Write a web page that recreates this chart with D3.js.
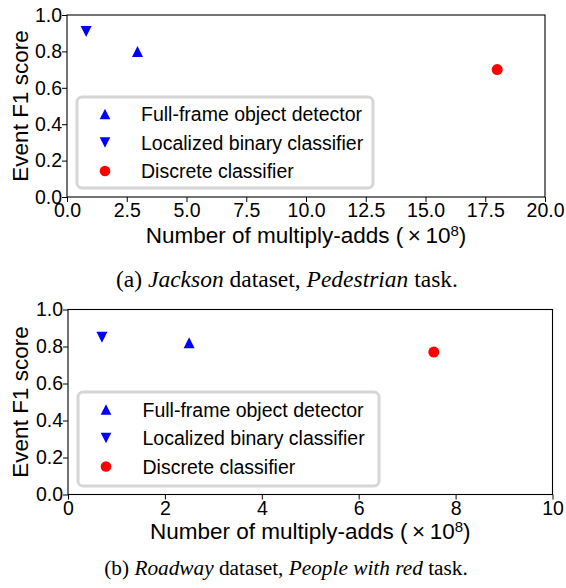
<!DOCTYPE html>
<html>
<head>
<meta charset="utf-8">
<script src="https://cdn.jsdelivr.net/npm/d3@7"></script>
<style>
  html, body { margin: 0; padding: 0; background: #fff; }
  svg { display: block; }
</style>
</head>
<body>
<svg id="chart" width="566" height="588"></svg>
<script>
// ---------------- data ----------------
const seriesNames = ["Full-frame object detector", "Localized binary classifier", "Discrete classifier"];
const seriesShapes = ["up", "down", "circle"];

const jacksonX = [2.95, 0.8, 18.0];
const jacksonY = [0.80, 0.91, 0.70];
const roadwayX = [2.5, 0.7, 7.55];
const roadwayY = [0.82, 0.85, 0.77];

const jacksonXTicks = [0, 2.5, 5, 7.5, 10, 12.5, 15, 17.5, 20];
const roadwayXTicks = [0, 2, 4, 6, 8, 10];
const yTicks = [0, 0.2, 0.4, 0.6, 0.8, 1.0];

const xLabelMain = "Number of multiply-adds (\u2009\u00D7\u200910";
const xLabelSup = "8";
const yLabel = "Event F1 score";
const captionA = [["(a) ", false], ["Jackson", true], [" dataset, ", false], ["Pedestrian", true], [" task.", false]];
const captionB = [["(b) ", false], ["Roadway", true], [" dataset, ", false], ["People with red", true], [" task.", false]];

// ---------------- styles ----------------
const seriesColors = ["#0000ff", "#0000ff", "#ff0000"];
const SANS = "'Liberation Sans', Arial, Helvetica, sans-serif";
const SERIF = "'Liberation Serif', 'Times New Roman', serif";

const svg = d3.select("#chart");

function markerPath(shape, s) {
  if (shape === "up") return `M0,${-s}L${s},${s}L${-s},${s}Z`;
  if (shape === "down") return `M0,${s}L${s},${-s}L${-s},${-s}Z`;
  const p = d3.path(); p.arc(0, 0, s, 0, 2 * Math.PI); return p.toString();
}

function drawPanel(cfg) {
  const { left, right, top, bottom, xDomain, xTicks, xFmt, xs, ys, legend, xLabelY, caption, captionY, captionX, captionSize } = cfg;
  const x = d3.scaleLinear().domain(xDomain).range([left, right]);
  const y = d3.scaleLinear().domain([0, 1]).range([bottom, top]);
  const g = svg.append("g");

  const xAxis = d3.axisBottom(x).tickValues(xTicks).tickFormat(d3.format(xFmt)).tickSize(5).tickPadding(1.5);
  const yAxis = d3.axisLeft(y).tickValues(yTicks).tickFormat(d3.format(".1f")).tickSize(5).tickPadding(0);

  const gx = g.append("g").attr("transform", `translate(0,${bottom})`).call(xAxis);
  const gy = g.append("g").attr("transform", `translate(${left},0)`).call(yAxis);
  [gx, gy].forEach(a => {
    a.select(".domain").remove();
    a.selectAll("line").attr("stroke", "#000").attr("stroke-width", 1);
    a.selectAll("text").attr("font-family", SANS).attr("font-size", 19.5).attr("fill", "#000");
  });

  // spines
  g.append("rect").attr("x", left).attr("y", top).attr("width", right - left).attr("height", bottom - top)
    .attr("fill", "none").attr("stroke", "#000").attr("stroke-width", 1.1);

  // points
  g.append("g").selectAll("path").data(d3.range(seriesNames.length)).join("path")
    .attr("d", i => markerPath(seriesShapes[i], 5.5))
    .attr("transform", i => `translate(${x(xs[i])},${y(ys[i])})`)
    .attr("fill", i => seriesColors[i]);

  // legend
  const lg = g.append("g");
  lg.append("rect").attr("x", legend.x).attr("y", legend.y).attr("width", legend.w).attr("height", legend.h)
    .attr("rx", 5).attr("ry", 5).attr("fill", "#fff").attr("fill-opacity", 0.85)
    .attr("stroke", "#d6d6d6").attr("stroke-width", 3);
  seriesNames.forEach((name, i) => {
    const cy = legend.y + legend.row0 + i * legend.rowStep;
    lg.append("path").attr("d", markerPath(seriesShapes[i], 5.3))
      .attr("transform", `translate(${legend.mx},${cy})`).attr("fill", seriesColors[i]);
    lg.append("text").attr("x", legend.tx).attr("y", cy + 7).attr("font-family", SANS)
      .attr("font-size", 19.5).attr("fill", "#000").text(name);
  });

  // x label
  const xl = g.append("text").attr("x", (left + right) / 2).attr("y", xLabelY).attr("text-anchor", "middle")
    .attr("font-family", SANS).attr("font-size", 22.5).attr("fill", "#000");
  xl.append("tspan").text(xLabelMain);
  xl.append("tspan").attr("font-size", 15).attr("dy", -7.5).text(xLabelSup);
  xl.append("tspan").attr("dy", 7.5).text(")");

  // y label
  g.append("text").attr("transform", `translate(28,${(top + bottom) / 2}) rotate(-90)`)
    .attr("text-anchor", "middle").attr("font-family", SANS).attr("font-size", 22.5).attr("fill", "#000")
    .text(yLabel);

  // caption
  const cap = g.append("text").attr("x", captionX).attr("y", captionY).attr("text-anchor", "middle")
    .attr("font-family", SERIF).attr("font-size", captionSize).attr("fill", "#000");
  caption.forEach(([t, it]) => cap.append("tspan").attr("font-style", it ? "italic" : "normal").text(t));
}

drawPanel({
  left: 67, right: 545, top: 15, bottom: 197,
  xDomain: [0, 20], xTicks: jacksonXTicks, xFmt: ".1f",
  xs: jacksonX, ys: jacksonY,
  legend: { x: 77, y: 97, w: 296, h: 91, row0: 17, rowStep: 28.5, mx: 105, tx: 141 },
  xLabelY: 243, caption: captionA, captionY: 287, captionX: 287, captionSize: 23.5
});

drawPanel({
  left: 68, right: 552.5, top: 309.5, bottom: 494.5,
  xDomain: [0, 10], xTicks: roadwayXTicks, xFmt: "d",
  xs: roadwayX, ys: roadwayY,
  legend: { x: 78, y: 392, w: 301, h: 94, row0: 17.5, rowStep: 28.5, mx: 106, tx: 142.5 },
  xLabelY: 539, caption: captionB, captionY: 575, captionX: 286, captionSize: 21.3
});
</script>
</body>
</html>
